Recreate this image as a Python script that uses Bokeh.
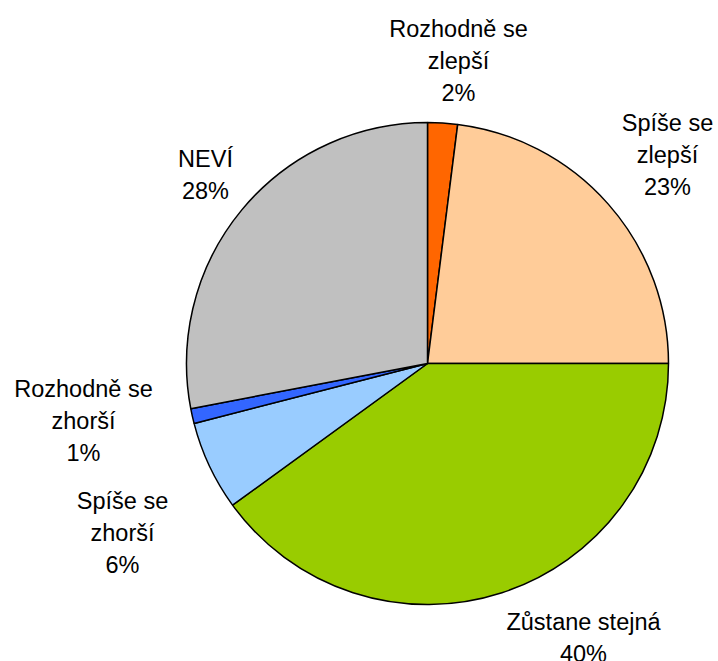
import math
from bokeh.plotting import figure
from bokeh.models import Range1d, ColumnDataSource
from bokeh.core.properties import value
from bokeh.embed import file_html
from bokeh.resources import INLINE

# ---- data ----
categories = ["Rozhodně se zlepší", "Spíše se zlepší", "Zůstane stejná",
              "Spíše se zhorší", "Rozhodně se zhorší", "NEVÍ"]
values = [2, 23, 40, 6, 1, 28]
colors = ["#FF6600", "#FFCC99", "#99CC00", "#99CCFF", "#3366FF", "#C0C0C0"]
label_lines = [["Rozhodně se", "zlepší"], ["Spíše se", "zlepší"], ["Zůstane stejná"],
               ["Spíše se", "zhorší"], ["Rozhodně se", "zhorší"], ["NEVÍ"]]

# ---- layout (screen pixels) ----
W, H = 718, 661
CX, CY, R = 427, 363, 241
label_pos = [(458, 28), (667, 122), (583, 621), (122, 500), (83, 388), (205, 158)]
LINE_H = 32


def sx(x):
    return x


def sy(y):
    return H - y


total = sum(values)
starts, ends = [], []
cum = 0.0
for v in values:
    starts.append(math.pi / 2 - 2 * math.pi * cum / total)
    cum += v
    ends.append(math.pi / 2 - 2 * math.pi * cum / total)

src = ColumnDataSource(dict(start=starts, end=ends, color=colors, cat=categories))

p = figure(width=W, height=H, output_backend="svg", toolbar_location=None,
           x_range=Range1d(0, W), y_range=Range1d(0, H), min_border=0)
p.axis.visible = False
p.grid.visible = False
p.outline_line_color = None
p.background_fill_color = "white"

p.wedge(x=sx(CX), y=sy(CY), radius=R, start_angle="start", end_angle="end",
        direction="clock", fill_color="color", line_color="black", line_width=1.5,
        source=src)

tx, ty, tt = [], [], []
for i, (lines, (lx, ly)) in enumerate(zip(label_lines, label_pos)):
    pct = f"{round(100 * values[i] / total)}%"
    for j, t in enumerate(lines + [pct]):
        tx.append(sx(lx))
        ty.append(sy(ly + j * LINE_H))
        tt.append(t)

p.text(x=tx, y=ty, text=tt, text_align="center", text_baseline="middle",
       text_font=value("Liberation Sans"), text_font_size="23.5px", text_color="black")

open("out.html", "w").write(file_html(p, INLINE))
